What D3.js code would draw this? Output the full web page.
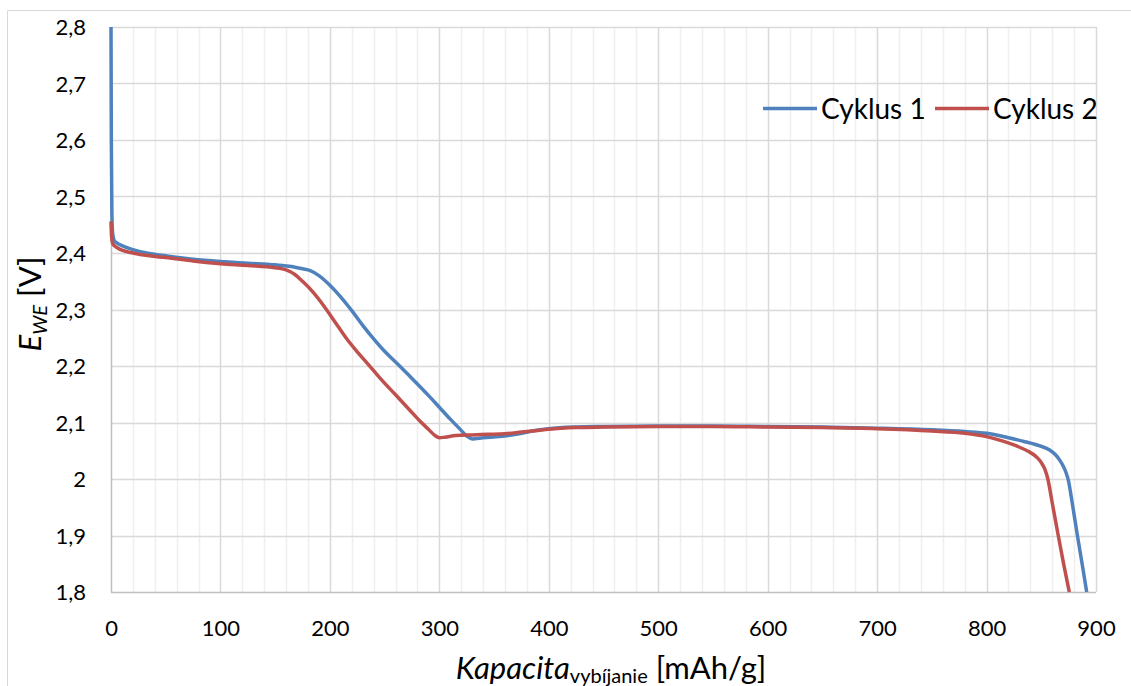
<!DOCTYPE html>
<html>
<head>
<meta charset="utf-8">
<script src="https://cdn.jsdelivr.net/npm/d3@7"></script>
<style>
  html, body { margin: 0; padding: 0; background: #fff; }
  svg { display: block; font-family: Lato, "Open Sans", sans-serif; }
</style>
</head>
<body>
<svg id="chart" width="1131" height="686"></svg>
<script>
// ---- Data ----
const cap1 = [0, 0.3, 0.8, 1.5, 3, 6, 10, 20, 35, 50, 75, 100, 125, 150, 165, 175, 182, 190, 200, 210, 220, 230, 240, 250, 260, 275, 290, 300, 310, 318, 325, 330, 340, 355, 370, 385, 400, 425, 450, 500, 550, 600, 650, 700, 750, 780, 800, 820, 835, 848, 858, 863, 867, 870, 872.5, 874.7, 878.5, 883, 887.3, 891.5];
const volt1 = [2.8, 2.6, 2.47, 2.435, 2.422, 2.417, 2.413, 2.406, 2.399, 2.395, 2.389, 2.385, 2.382, 2.379, 2.376, 2.372, 2.369, 2.36, 2.343, 2.322, 2.298, 2.272, 2.248, 2.226, 2.207, 2.178, 2.148, 2.127, 2.106, 2.09, 2.076, 2.071, 2.073, 2.075, 2.079, 2.085, 2.089, 2.092, 2.093, 2.094, 2.094, 2.093, 2.092, 2.09, 2.087, 2.084, 2.081, 2.073, 2.066, 2.059, 2.051, 2.043, 2.033, 2.023, 2.012, 1.998, 1.955, 1.9, 1.85, 1.8];

const cap2 = [0, 0.5, 1.5, 3, 6, 10, 20, 35, 50, 75, 100, 125, 150, 160, 168, 175, 185, 195, 205, 215, 225, 235, 246, 260, 272, 282, 290, 296, 300, 305, 315, 330, 345, 360, 375, 390, 400, 425, 450, 500, 550, 600, 650, 700, 750, 780, 800, 815, 828, 838, 845, 850, 853.5, 856, 860, 865.5, 870.5, 875.6];
const volt2 = [2.456, 2.43, 2.417, 2.413, 2.409, 2.405, 2.4, 2.395, 2.392, 2.386, 2.381, 2.378, 2.374, 2.37, 2.362, 2.35, 2.33, 2.305, 2.277, 2.249, 2.225, 2.203, 2.178, 2.149, 2.124, 2.103, 2.088, 2.077, 2.073, 2.074, 2.077, 2.078, 2.079, 2.08, 2.083, 2.086, 2.088, 2.091, 2.092, 2.093, 2.093, 2.092, 2.091, 2.089, 2.085, 2.081, 2.075, 2.067, 2.058, 2.049, 2.04, 2.029, 2.016, 2.0, 1.958, 1.9, 1.849, 1.8];

const seriesNames = ["Cyklus 1", "Cyklus 2"];
const xTicks = [0, 100, 200, 300, 400, 500, 600, 700, 800, 900];
const yTicks = [1.8, 1.9, 2.0, 2.1, 2.2, 2.3, 2.4, 2.5, 2.6, 2.7, 2.8];
const yTickLabels = ["1,8", "1,9", "2", "2,1", "2,2", "2,3", "2,4", "2,5", "2,6", "2,7", "2,8"];

// ---- Layout ----
const svg = d3.select("#chart");
const pLeft = 111, pRight = 1096, pTop = 27, pBottom = 592;
const x = d3.scaleLinear().domain([0, 900]).range([pLeft, pRight]);
const y = d3.scaleLinear().domain([1.8, 2.8]).range([pBottom, pTop]);
const colors = ["#4F81BD", "#C0504D"];

// outer frame
svg.append("path").attr("d", "M7.5,686 L7.5,10.5 L1131,10.5")
  .attr("fill", "none").attr("stroke", "#d9d9d9").attr("stroke-width", 1);

// minor vertical grid
const minor = d3.range(20, 900, 20).filter(v => v % 100 !== 0);
svg.append("g").selectAll("line").data(minor).join("line")
  .attr("x1", d => Math.round(x(d)) + 0.5).attr("x2", d => Math.round(x(d)) + 0.5)
  .attr("y1", pTop).attr("y2", pBottom)
  .attr("stroke", "#efefef").attr("stroke-width", 1.5);

// major vertical grid
svg.append("g").selectAll("line").data(xTicks.slice(1)).join("line")
  .attr("x1", d => Math.round(x(d)) + 0.5).attr("x2", d => Math.round(x(d)) + 0.5)
  .attr("y1", pTop).attr("y2", pBottom)
  .attr("stroke", "#d9d9d9").attr("stroke-width", 1.5);

// horizontal grid
svg.append("g").selectAll("line").data(yTicks.slice(1)).join("line")
  .attr("x1", pLeft).attr("x2", pRight)
  .attr("y1", d => Math.round(y(d)) + 0.5).attr("y2", d => Math.round(y(d)) + 0.5)
  .attr("stroke", "#d9d9d9").attr("stroke-width", 1.5);

// axes lines
svg.append("line").attr("x1", pLeft).attr("x2", pRight).attr("y1", pBottom + 0.5).attr("y2", pBottom + 0.5)
  .attr("stroke", "#bfbfbf").attr("stroke-width", 1.5);
svg.append("line").attr("x1", pLeft + 0.5).attr("x2", pLeft + 0.5).attr("y1", pTop).attr("y2", pBottom)
  .attr("stroke", "#bfbfbf").attr("stroke-width", 1.5);

// tick labels via axes
const xAxis = d3.axisBottom(x).tickValues(xTicks).tickSize(0).tickPadding(0).tickFormat(d3.format("d"));
const gx = svg.append("g").attr("transform", `translate(0,${pBottom})`).call(xAxis);
gx.select(".domain").remove();
gx.selectAll("text").attr("font-size", 22).attr("fill", "#000").attr("font-family", "Lato")
  .attr("dy", null).attr("y", 44);

const yAxis = d3.axisLeft(y).tickValues(yTicks).tickSize(0).tickPadding(0)
  .tickFormat((d, i) => yTickLabels[i]);
const gy = svg.append("g").attr("transform", `translate(86,0)`).call(yAxis);
gy.select(".domain").remove();
gy.selectAll("text").attr("font-size", 22).attr("fill", "#000").attr("font-family", "Lato")
  .attr("dy", "0.36em");

// lines
const line = d3.line().x(d => x(d[0])).y(d => y(d[1])).curve(d3.curveMonotoneX);
const data1 = cap1.map((c, i) => [c, volt1[i]]);
const data2 = cap2.map((c, i) => [c, volt2[i]]);
[data1, data2].forEach((d, i) => {
  svg.append("path").datum(d).attr("d", line)
    .attr("fill", "none").attr("stroke", colors[i]).attr("stroke-width", 3.5)
    .attr("stroke-linejoin", "round").attr("stroke-linecap", "butt");
});

// legend
const legendX = [763, 935];
seriesNames.forEach((name, i) => {
  svg.append("line").attr("x1", legendX[i]).attr("x2", legendX[i] + 54)
    .attr("y1", 108.5).attr("y2", 108.5).attr("stroke", colors[i]).attr("stroke-width", 3.5);
  svg.append("text").attr("x", legendX[i] + 58).attr("y", 118.5)
    .attr("font-size", 28).attr("fill", "#000").text(name);
});

// x axis title
const xt = svg.append("text").attr("x", 611).attr("y", 679)
  .attr("text-anchor", "middle").attr("font-size", 31).attr("fill", "#000");
xt.append("tspan").attr("font-style", "italic").text("Kapacita");
xt.append("tspan").attr("font-size", 20).attr("dy", 4).text("vybíjanie");
xt.append("tspan").attr("dy", -4).text(" [mAh/g]");

// y axis title
const yt = svg.append("text").attr("transform", `translate(41,304) rotate(-90)`)
  .attr("text-anchor", "middle").attr("font-size", 31).attr("fill", "#000");
yt.append("tspan").attr("font-style", "italic").text("E");
yt.append("tspan").attr("font-style", "italic").attr("font-size", 20).attr("dy", 6).text("WE");
yt.append("tspan").attr("dy", -6).text(" [V]");
</script>
</body>
</html>
